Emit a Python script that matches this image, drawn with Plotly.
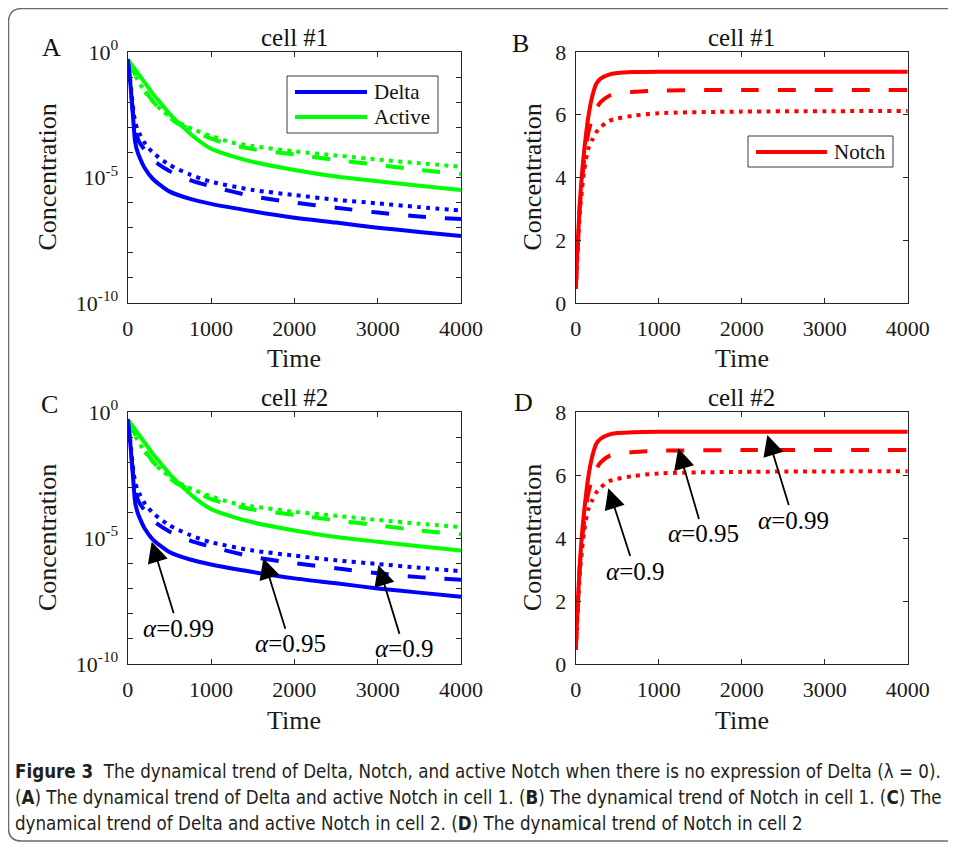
import plotly.graph_objects as go

# Figure is sized to fit inside the page body (8px default margins)
W, H = 940, 834
OFF = 8

# ---------------- data ----------------
t_delta = [0, 30, 60, 90, 120, 150, 200, 300, 500, 750, 1000, 1500, 2000, 2500, 3000, 3500, 4000]
delta_a099 = [5.0e-1, 6.3e-2, 4.0e-3, 2.5e-4, 1.0e-4, 5.6e-5, 2.5e-5, 8.9e-6, 2.8e-6, 1.4e-6,
              8.9e-7, 4.5e-7, 2.5e-7, 1.6e-7, 1.0e-7, 6.8e-8, 4.7e-8]
delta_a095 = [5.0e-1, 6.3e-2, 5.0e-3, 7.9e-4, 3.5e-4, 2.2e-4, 1.3e-4, 5.0e-5, 1.8e-5, 7.9e-6,
              4.5e-6, 1.8e-6, 1.0e-6, 6.3e-7, 4.0e-7, 2.8e-7, 2.2e-7]
delta_a090 = [5.0e-1, 7.9e-2, 7.9e-3, 1.6e-3, 7.9e-4, 5.0e-4, 2.5e-4, 1.0e-4, 3.2e-5, 1.3e-5,
              6.8e-6, 3.2e-6, 2.0e-6, 1.3e-6, 9.3e-7, 6.6e-7, 4.8e-7]

t_active = [0, 100, 200, 300, 400, 500, 600, 700, 800, 1000, 1250, 1500, 2000, 2500, 3000, 3500, 4000]
active_a099 = [5.0e-1, 1.8e-1, 6.3e-2, 2.2e-2, 8.9e-3, 3.5e-3, 1.6e-3, 7.9e-4, 4.0e-4, 1.4e-4,
               7.1e-5, 4.2e-5, 2.0e-5, 1.1e-5, 7.1e-6, 4.7e-6, 3.2e-6]
active_a095 = [5.0e-1, 1.1e-1, 3.2e-2, 1.1e-2, 5.0e-3, 2.5e-3, 1.4e-3, 1.0e-3, 7.1e-4, 3.5e-4,
               2.0e-4, 1.35e-4, 8.3e-5, 5.0e-5, 3.2e-5, 2.0e-5, 1.4e-5]
active_a090 = [5.0e-1, 1.0e-1, 2.8e-2, 1.1e-2, 5.0e-3, 2.8e-3, 1.7e-3, 1.1e-3, 7.9e-4, 4.5e-4,
               2.5e-4, 1.8e-4, 1.1e-4, 7.6e-5, 5.2e-5, 3.7e-5, 2.7e-5]

t_notch = [0, 25, 50, 75, 100, 150, 200, 250, 300, 400, 500, 700, 1000, 2000, 4000]
notch_a099 = [0.45, 1.9, 3.2, 4.1, 4.8, 5.9, 6.6, 7.0, 7.15, 7.28, 7.33, 7.36, 7.37, 7.37, 7.37]
notch_a095 = [0.45, 1.8, 3.1, 3.9, 4.5, 5.4, 5.9, 6.2, 6.4, 6.6, 6.67, 6.73, 6.77, 6.79, 6.79]
notch_a090 = [0.45, 1.7, 2.9, 3.6, 4.2, 4.9, 5.2, 5.45, 5.6, 5.8, 5.88, 5.97, 6.05, 6.1, 6.12]

x_ticks = [0, 1000, 2000, 3000, 4000]
log_major_vals = [1e0, 1e-5, 1e-10]
log_major_text = ["10<sup>0</sup>", "10<sup>-5</sup>", "10<sup>-10</sup>"]
log_minor_vals = [1e-1, 1e-2, 1e-3, 1e-4, 1e-6, 1e-7, 1e-8, 1e-9]
lin_ticks = [0, 2, 4, 6, 8]

alpha_labels = ["<i>α</i>=0.99", "<i>α</i>=0.95", "<i>α</i>=0.9"]
panel_titles = ["cell #1", "cell #1", "cell #2", "cell #2"]
panel_letters = ["A", "B", "C", "D"]

# ---------------- helpers (reference-page px -> paper) ----------------
def X(px):
    return (px - OFF) / W


def Y(py):
    return 1 - (py - OFF) / H


SERIF = "Liberation Serif, Times New Roman, serif"
AXC = "#262626"
BLUE, GREEN, RED = "#0000FF", "#00FF00", "#FF0000"
DASHES = ["solid", "18px,19px", "4px,5.3px"]
LW = 4

boxes = {
    1: (127.7, 461.0, 52.0, 303.0),
    2: (575.7, 907.7, 52.0, 303.0),
    3: (127.7, 461.0, 412.0, 664.0),
    4: (575.7, 907.7, 412.0, 664.0),
}

fig = go.Figure()


def add_line(n, x, y, color, dash):
    sfx = "" if n == 1 else str(n)
    fig.add_trace(go.Scatter(
        x=x, y=y, mode="lines", xaxis="x" + sfx, yaxis="y" + sfx,
        line=dict(color=color, width=LW, dash=dash, shape="spline", smoothing=0.7),
        showlegend=False, hoverinfo="skip"))


for n in (1, 3):
    for vals, d in zip([active_a099, active_a095, active_a090], DASHES):
        add_line(n, t_active, vals, GREEN, d)
    for vals, d in zip([delta_a099, delta_a095, delta_a090], DASHES):
        add_line(n, t_delta, vals, BLUE, d)
for n in (2, 4):
    for vals, d in zip([notch_a099, notch_a095, notch_a090], DASHES):
        add_line(n, t_notch, vals, RED, d)

layout = dict(
    width=W, height=H, autosize=False,
    margin=dict(l=0, r=0, t=0, b=0, pad=0),
    paper_bgcolor="white", plot_bgcolor="white",
    font=dict(family=SERIF, color="#1a1a1a"),
    showlegend=False,
)

for n, (x0, x1, y0, y1) in boxes.items():
    sfx = "" if n == 1 else str(n)
    common = dict(showline=True, linecolor=AXC, linewidth=1, mirror="ticks",
                  ticks="inside", ticklen=5, tickcolor=AXC, tickwidth=1,
                  showgrid=False, zeroline=False, automargin=False,
                  tickfont=dict(family=SERIF, size=22, color="#1a1a1a"))
    layout["xaxis" + sfx] = dict(
        common, domain=[X(x0), X(x1)], anchor="y" + sfx, range=[0, 4000],
        tickmode="array", tickvals=x_ticks, ticklabelstandoff=6)
    if n in (1, 3):
        layout["yaxis" + sfx] = dict(
            common, domain=[Y(y1), Y(y0)], anchor="x" + sfx, type="log", range=[-10, 0],
            tickmode="array", tickvals=log_major_vals, ticktext=log_major_text,
            ticklabelstandoff=4,
            minor=dict(tickmode="array", tickvals=log_minor_vals, ticks="inside",
                       ticklen=5, tickcolor=AXC, tickwidth=1, showgrid=False))
    else:
        layout["yaxis" + sfx] = dict(
            common, domain=[Y(y1), Y(y0)], anchor="x" + sfx, range=[0, 8],
            tickmode="array", tickvals=lin_ticks, ticklabelstandoff=4)

fig.update_layout(**layout)

ann = []
shapes = []

title_y = {1: 37, 2: 37, 3: 397, 4: 397}
letter_pos = {1: (51, 47), 2: (520, 44), 3: (49, 405), 4: (523, 403)}
time_y = {1: 358, 2: 358, 3: 720, 4: 720}
conc_x = {1: 47, 2: 532, 3: 47, 4: 532}
for n, (x0, x1, y0, y1) in boxes.items():
    cx = (x0 + x1) / 2
    ann.append(dict(xref="paper", yref="paper", x=X(cx), y=Y(title_y[n]), text=panel_titles[n - 1],
                    showarrow=False, font=dict(family=SERIF, size=25, color="#111"),
                    xanchor="center", yanchor="middle"))
    lx, ly = letter_pos[n]
    ann.append(dict(xref="paper", yref="paper", x=X(lx), y=Y(ly), text=panel_letters[n - 1],
                    showarrow=False, font=dict(family=SERIF, size=26, color="#111"),
                    xanchor="center", yanchor="middle"))
    ann.append(dict(xref="paper", yref="paper", x=X(cx), y=Y(time_y[n]), text="Time",
                    showarrow=False, font=dict(family=SERIF, size=26, color="#1a1a1a"),
                    xanchor="center", yanchor="middle"))
    ann.append(dict(xref="paper", yref="paper", x=X(conc_x[n]), y=Y((y0 + y1) / 2), text="Concentration",
                    showarrow=False, textangle=-90, font=dict(family=SERIF, size=26, color="#1a1a1a"),
                    xanchor="center", yanchor="middle"))

ARROW = dict(showarrow=True, arrowhead=2, arrowsize=2.3, arrowwidth=1.8, arrowcolor="black",
             font=dict(family=SERIF, size=25, color="black"))
arrows_C = [(288, -5.15, 607, -8.58), (1628, -5.8, 1948, -9.2), (3008, -6.07, 3317, -9.4)]
for (hx, hy, tx, ty), lab in zip(arrows_C, alpha_labels):
    ann.append(dict(ARROW, xref="x3", yref="y3", axref="x3", ayref="y3", x=hx, y=hy, ax=tx, ay=ty,
                    text=lab))
arrows_D = [(393, 5.58, 715, 2.95), (1236, 6.85, 1538, 4.13), (2309, 7.27, 2622, 4.57)]
for (hx, hy, tx, ty), lab in zip(arrows_D, [alpha_labels[2], alpha_labels[1], alpha_labels[0]]):
    ann.append(dict(ARROW, xref="x4", yref="y4", axref="x4", ayref="y4", x=hx, y=hy, ax=tx, ay=ty,
                    text=lab))


def legend_box(x0, x1, y0, y1):
    shapes.append(dict(type="rect", xref="paper", yref="paper", x0=X(x0), x1=X(x1), y0=Y(y1), y1=Y(y0),
                       line=dict(color="#3a3a3a", width=1), fillcolor="white", layer="above"))


def legend_item(lx0, lx1, ly, color, label, tx):
    shapes.append(dict(type="line", xref="paper", yref="paper", x0=X(lx0), x1=X(lx1), y0=Y(ly), y1=Y(ly),
                       line=dict(color=color, width=LW), layer="above"))
    ann.append(dict(xref="paper", yref="paper", x=X(tx), y=Y(ly), text=label, showarrow=False,
                    xanchor="left", yanchor="middle", font=dict(family=SERIF, size=21, color="#111")))


legend_box(287, 438, 76, 133)
legend_item(295, 367, 92, BLUE, "Delta", 372)
legend_item(295, 367, 117, GREEN, "Active", 372)
legend_box(748, 893, 136, 167)
legend_item(756, 827, 152, RED, "Notch", 832)

# outer rounded frame (open on the right, like the reference)
path = (f"M {X(948)},{Y(8.5)} L {X(22)},{Y(8.5)} Q {X(8.5)},{Y(8.5)} {X(8.5)},{Y(22)} "
        f"L {X(8.5)},{Y(828)} Q {X(8.5)},{Y(841)} {X(22)},{Y(841)} L {X(948)},{Y(841)}")
shapes.append(dict(type="path", xref="paper", yref="paper", path=path,
                   line=dict(color="#6b6b6b", width=1.5)))

CAP = "Liberation Sans Narrow, DejaVu Sans Condensed, Roboto Condensed, Noto Sans, sans-serif"
cap_lines = [
    "<b>Figure 3</b>  The dynamical trend of Delta, Notch, and active Notch when there is no expression of Delta (λ = 0).",
    "(<b>A</b>) The dynamical trend of Delta and active Notch in cell 1. (<b>B</b>) The dynamical trend of Notch in cell 1. (<b>C</b>) The",
    "dynamical trend of Delta and active Notch in cell 2. (<b>D</b>) The dynamical trend of Notch in cell 2",
]
for ln, yy in zip(cap_lines, [771, 797, 823]):
    ann.append(dict(xref="paper", yref="paper", x=X(13), y=Y(yy), text=ln, showarrow=False,
                    xanchor="left", yanchor="middle", font=dict(family=CAP, size=18.6, color="#231f20")))

fig.update_layout(annotations=ann, shapes=shapes)
fig.write_html("out.html")
